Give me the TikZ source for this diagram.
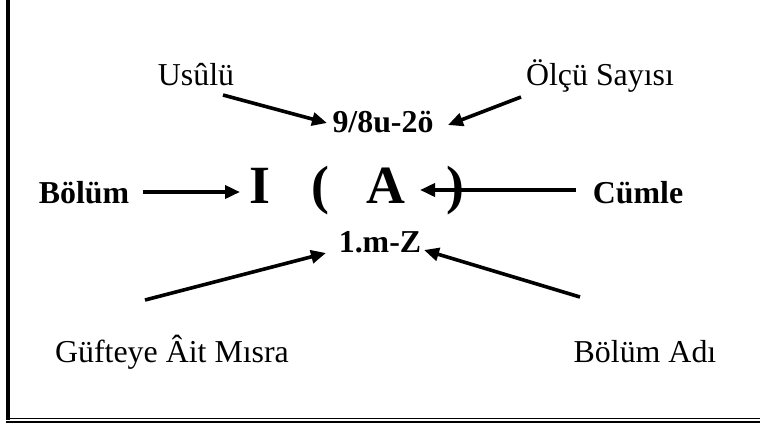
\documentclass[tikz,border=0pt]{standalone}
\usepackage{fontspec}
\setmainfont{Liberation Serif}
\usetikzlibrary{arrows.meta}
\tikzset{
  lbl/.style={inner sep=0pt, font=\fontsize{32}{36}\selectfont, anchor=base},
  blbl/.style={inner sep=0pt, font=\fontsize{32}{36}\selectfont\bfseries, anchor=base},
  big/.style={inner sep=0pt, font=\fontsize{54}{60}\selectfont\bfseries, anchor=base},
  arr/.style={line width=3.6bp, -{Triangle[length=15bp,width=13bp]}, shorten <=0pt},
  frame/.style={line cap=butt}
}
\begin{document}
\begin{tikzpicture}[x=1bp,y=-1bp]
\useasboundingbox (0,0) rectangle (760,425);
% frame
\draw[frame, line width=4bp] (8,0) -- (8,419.5);
\draw[frame, line width=1.6bp] (10,418.3) -- (760,418.3);
\draw[frame, line width=2.2bp] (6,421.6) -- (760,421.6);
% labels
\node[lbl] (usulu) at (196,85) {Usûlü};
\node[lbl] (olcu) at (600,85) {Ölçü Sayısı};
\node[blbl] (olcum) at (383,132) {9/8u-2ö};
\node[blbl] (bolum) at (84,203) {Bölüm};
\node[blbl] (cumle) at (638,203) {Cümle};
\node[big] (I) at (260,203) {I};
\node[big] (lp) at (320,203) {(};
\node[big] (A) at (386,203) {A};
\node[big] (rp) at (455,203) {)};
\node[blbl] (mz) at (380,252) {1.m-Z};
\node[lbl] (gufte) at (172,362) {Güfteye Âit Mısra};
\node[lbl] (badi) at (645,362) {Bölüm Adı};
% connector anchor points
\coordinate (u0) at (223,95);
\coordinate (u1) at (327,123);
\coordinate (o0) at (521,97);
\coordinate (o1) at (448,125);
\coordinate (b0) at (143,192);
\coordinate (b1) at (240,192);
\coordinate (c0) at (576,190);
\coordinate (c1) at (420,190);
\coordinate (g0) at (145,300);
\coordinate (g1) at (326,253);
\coordinate (d0) at (580,297);
\coordinate (d1) at (424,250);
\draw[arr] (u0) -- (u1);
\draw[arr] (o0) -- (o1);
\draw[arr] (b0) -- (b1);
\draw[arr] (c0) -- (c1);
\draw[arr] (g0) -- (g1);
\draw[arr] (d0) -- (d1);
\end{tikzpicture}
\end{document}
